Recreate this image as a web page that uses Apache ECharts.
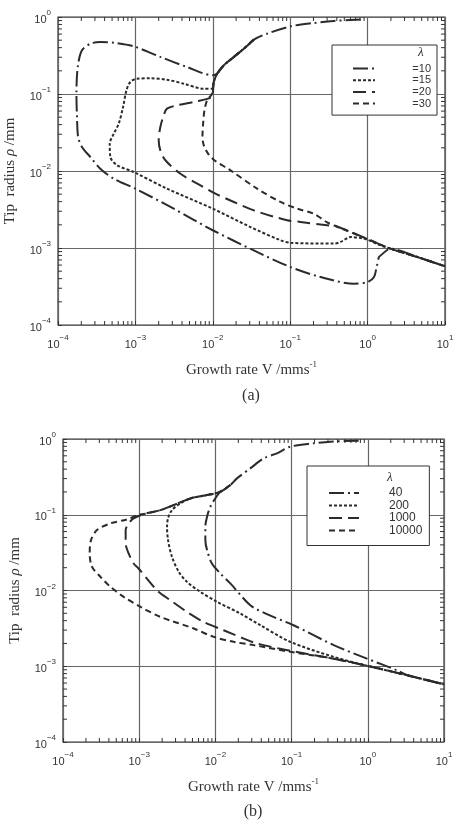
<!DOCTYPE html>
<html>
<head>
<meta charset="utf-8">
<script src="https://cdn.jsdelivr.net/npm/echarts@6/dist/echarts.min.js"></script>
<style>
  html, body { margin: 0; height: 100%; background: #fff; }
  #chart { width: 460px; height: 820px; }
</style>
</head>
<body>
<div id="chart"></div>
<script>
// points are [V (mm/s), rho (mm)]

// ---- panel (a) ----
var topA = [[0.81,0.93],[0.367,0.89],[0.202,0.836],[0.101,0.756],[0.0505,0.608]];
var upperA = [[0.0339,0.508],[0.0252,0.388],[0.0187,0.303],[0.0139,0.236],[0.0114,0.184],[0.0103,0.143]];
var joinA = [[0.4,1.9e-3],[1.09,1.26e-3]];
var tailA = [[1.98,9.8e-4],[4.39,7.64e-4],[10,5.78e-4]];

var loop10 = [[0.01,0.175],[0.00466,0.224],[0.0021,0.303],[0.00095,0.416],[5.25e-4,0.464],[3.52e-4,0.473],
              [2.62e-4,0.45],[2.04e-4,0.369],[1.8e-4,0.224],[1.73e-4,0.101],[1.76e-4,0.0502],[1.82e-4,0.0277],
              [2.04e-4,0.0205],[2.62e-4,0.0152],[3.52e-4,0.0107],[5.25e-4,0.00794],[1e-3,0.00589],[3.13e-3,3.24e-3],
              [0.01,1.7e-3],[0.0339,9.3e-4],[0.1,5.67e-4],[0.247,4.2e-4],[0.666,3.44e-4],[1.0,3.61e-4],
              [1.21,4.2e-4],[1.31,5.67e-4],[1.4,7.6e-4],[1.47,8.0e-4]];
var loop15 = [[0.0098,0.117],[7.65e-3,0.117],[4.22e-3,0.136],[2.56e-3,0.153],[1.56e-3,0.16],[1.05e-3,0.158],
              [8.6e-4,0.143],[7.65e-4,0.111],[6.93e-4,0.0678],[6.09e-4,0.0412],[5.25e-4,0.0305],[4.66e-4,0.0226],
              [4.75e-4,0.0152],[5.8e-4,0.0119],[9.5e-4,9.7e-3],[2.56e-3,5.9e-3],[0.01,3.24e-3],[0.0307,1.87e-3],
              [0.075,1.26e-3],[0.101,1.17e-3],[0.367,1.14e-3],[0.448,1.2e-3],[0.603,1.39e-3],[0.81,1.35e-3],
              [1.0,1.28e-3],[1.47,1.08e-3]];
var loop20 = [[0.01,0.1],[0.0098,0.0914],[6.27e-3,0.0803],[3.46e-3,0.0713],[2.56e-3,0.0645],[2.32e-3,0.0528],
              [2.1e-3,0.0373],[2.0e-3,0.025],[2.1e-3,0.0185],[2.44e-3,0.0138],[3.82e-3,9.2e-3],[6.93e-3,6.5e-3],
              [0.0108,5.08e-3],[0.0187,3.96e-3],[0.0339,3.08e-3],[0.0914,2.29e-3],[0.136,2.18e-3],[0.3,1.97e-3]];
var loop30 = [[0.0098,0.101],[8.45e-3,0.0828],[7.8e-3,0.0614],[7.5e-3,0.0412],[7.35e-3,0.0277],[7.65e-3,0.0215],
              [8.6e-3,0.0171],[0.0103,0.014],[0.0169,0.0102],[0.0374,5.9e-3],[0.075,3.96e-3],[0.123,3.24e-3],
              [0.202,2.79e-3],[0.3,2.15e-3]];

// ---- panel (b) ----
var topB = [[0.759,0.95],[0.322,0.922],[0.195,0.877],[0.0962,0.792],[0.0643,0.647],[0.043,0.555],
            [0.0287,0.409],[0.0192,0.302]];
var upperB = [[0.0157,0.247],[0.0116,0.201]];
var midB = [[7.77e-3,0.182],[4.69e-3,0.164]];
var lowB = [[2.83e-3,0.134],[1.89e-3,0.115],[1.15e-3,0.102]];
var tailB = [[3.3,7.6e-4],[10,5.78e-4]];

var loop40 = [[0.0103,0.173],[8.6e-3,0.128],[7.77e-3,0.0942],[7.38e-3,0.0694],[7.38e-3,0.0463],[7.77e-3,0.0341],
              [9.0e-3,0.0227],[0.0116,0.0168],[0.0157,0.0124],[0.0287,6.4e-3],[0.0475,4.87e-3],[0.106,3.48e-3],
              [0.357,1.9e-3],[0.975,1.26e-3],[2.41,8.85e-4]];
var loop200 = [[3.47e-3,0.141],[2.69e-3,0.115],[2.39e-3,0.0895],[2.32e-3,0.0694],[2.39e-3,0.0463],[2.69e-3,0.0279],
               [3.3e-3,0.0177],[4.24e-3,0.013],[6.34e-3,9.6e-3],[0.0105,7.08e-3],[0.0212,4.97e-3],[0.0389,3.48e-3],
               [0.0962,2.1e-3],[0.357,1.33e-3],[1.0,1.01e-3]];
var loop1000 = [[8.45e-4,0.0895],[7.27e-4,0.0768],[6.64e-4,0.0627],[6.64e-4,0.0418],[7.27e-4,0.0308],[8.45e-4,0.0227],
                [9.8e-4,0.0195],[1.71e-3,0.0101],[2.56e-3,7.45e-3],[4.24e-3,5.22e-3],[7.0e-3,3.85e-3],[0.0128,2.99e-3],
                [0.0235,2.32e-3],[0.0352,2.0e-3],[0.0962,1.6e-3],[0.357,1.26e-3],[1.0,1.01e-3]];
var loop10000 = [[9.9e-4,0.1],[6.92e-4,0.0868],[4.18e-4,0.0768],[2.79e-4,0.0627],[2.33e-4,0.0463],[2.24e-4,0.0308],
                 [2.4e-4,0.0206],[3.09e-4,0.0152],[4.18e-4,0.0112],[6.25e-4,8.25e-3],[1.04e-3,6.08e-3],[1.89e-3,4.49e-3],
                 [5.19e-3,3.15e-3],[9.5e-3,2.44e-3],[0.0174,2.1e-3],[0.0318,1.9e-3],[0.0962,1.55e-3],[0.357,1.26e-3],
                 [1.0,1.01e-3]];

var namesA = ['=10', '=15', '=20', '=30'];
var namesB = ['40', '200', '1000', '10000'];

var xMin = 1e-4, xMax = 10, yMin = 1e-4, yMax = 1;
var decadesX = [1e-4, 1e-3, 1e-2, 1e-1, 1];
var decadesY = [1e-4, 1e-3, 1e-2, 1e-1];
var minorSteps = [2, 3, 4, 5, 6, 7, 8, 9];

var INK = '#2b2b2b';
var SANS = 'Liberation Sans, Arial, sans-serif';
var SERIF = 'Liberation Serif, Times New Roman, serif';

var dashDot = [15, 4, 2, 4];
var fineDash = [3, 2];
var longDash = [13, 6];
var midDash = [6, 4];

var minorX = [], minorY = [];
decadesX.forEach(function (d) { minorSteps.forEach(function (m) { minorX.push([m * d, yMin]); }); });
decadesY.forEach(function (d) { minorSteps.forEach(function (m) { minorY.push([xMin, m * d]); }); });

function tickSeries(idx, dir) {
  return {
    type: 'custom', xAxisIndex: idx, yAxisIndex: idx, silent: true, z: 3,
    data: dir === 'x' ? minorX : minorY,
    renderItem: function (params, api) {
      var v = api.value(dir === 'x' ? 0 : 1);
      var sty = { stroke: '#333', lineWidth: 1 };
      if (dir === 'x') {
        var b = api.coord([v, yMin]), t = api.coord([v, yMax]);
        return { type: 'group', children: [
          { type: 'line', shape: { x1: b[0], y1: b[1], x2: b[0], y2: b[1] - 4 }, style: sty },
          { type: 'line', shape: { x1: t[0], y1: t[1], x2: t[0], y2: t[1] + 4 }, style: sty }
        ] };
      }
      var l = api.coord([xMin, v]), r = api.coord([xMax, v]);
      return { type: 'group', children: [
        { type: 'line', shape: { x1: l[0], y1: l[1], x2: l[0] + 4, y2: l[1] }, style: sty },
        { type: 'line', shape: { x1: r[0], y1: r[1], x2: r[0] - 4, y2: r[1] }, style: sty }
      ] };
    }
  };
}

function curve(name, idx, data, dash) {
  return {
    name: name, type: 'line', xAxisIndex: idx, yAxisIndex: idx, data: data,
    showSymbol: false, symbol: 'none', smooth: 0.3, z: 4,
    lineStyle: { color: INK, width: 2, type: dash },
    itemStyle: { color: INK }
  };
}

function powLabel(v) {
  var e = Math.round(Math.log10(v));
  return '{b|10}{s|' + (e < 0 ? '\u2212' + (-e) : e) + '}';
}
var labelRich = {
  b: { fontSize: 11, fontFamily: SANS, color: '#333', lineHeight: 16, verticalAlign: 'bottom' },
  s: { fontSize: 8, fontFamily: SANS, color: '#333', lineHeight: 8, verticalAlign: 'top' }
};

function xAxisCfg(idx) {
  return {
    type: 'log', logBase: 10, gridIndex: idx, min: xMin, max: xMax,
    name: '{t|Growth rate V /mms}{s|-1}', nameLocation: 'middle', nameGap: 35,
    nameTextStyle: { rich: {
      t: { fontSize: 15, fontFamily: SERIF, color: '#333', lineHeight: 18, verticalAlign: 'bottom' },
      s: { fontSize: 9, fontFamily: SERIF, color: '#333', lineHeight: 9, verticalAlign: 'top' } } },
    axisLine: { show: false },
    axisTick: { show: true, inside: true, length: 4, lineStyle: { color: '#333' } },
    minorTick: { show: false },
    splitLine: { show: true, lineStyle: { color: '#666', width: 1.2 } },
    axisLabel: { margin: 9, formatter: powLabel, rich: labelRich, showMinLabel: true, showMaxLabel: true }
  };
}
function yAxisCfg(idx) {
  return {
    type: 'log', logBase: 10, gridIndex: idx, min: yMin, max: yMax,
    name: '{t|Tip  radius }{i|\u03c1}{t| /mm}', nameLocation: 'middle', nameGap: 40,
    nameTextStyle: { rich: {
      t: { fontSize: 15, fontFamily: SERIF, color: '#333' },
      i: { fontSize: 15, fontFamily: SERIF, fontStyle: 'italic', color: '#333' } } },
    axisLine: { show: false },
    axisTick: { show: true, inside: true, length: 4, lineStyle: { color: '#333' } },
    minorTick: { show: false },
    splitLine: { show: true, lineStyle: { color: '#666', width: 1.2 } },
    axisLabel: { margin: 7, formatter: powLabel, rich: labelRich, showMinLabel: true, showMaxLabel: true }
  };
}

var chart = echarts.init(document.getElementById('chart'), null, { renderer: 'canvas' });
var option = {
  animation: false,
  backgroundColor: '#fff',
  grid: [
    { left: 58, top: 17, width: 387, height: 308, show: true, borderColor: '#333', borderWidth: 1.2, outerBoundsMode: 'none', containLabel: false },
    { left: 63, top: 439, width: 381, height: 303, show: true, borderColor: '#333', borderWidth: 1.2, outerBoundsMode: 'none', containLabel: false }
  ],
  xAxis: [xAxisCfg(0), xAxisCfg(1)],
  yAxis: [yAxisCfg(0), yAxisCfg(1)],
  legend: [
    {
      data: namesA, orient: 'vertical', left: 332, top: 45,
      itemWidth: 22, itemHeight: 11, itemGap: 0.7, padding: [18, 6, 6, 20],
      borderColor: '#333', borderWidth: 1, backgroundColor: '#fff', selectedMode: false,
      itemStyle: { opacity: 0 },
      formatter: function (n) { return '{r|' + n + '}'; },
      textStyle: { rich: { r: { width: 51, align: 'right', fontSize: 11, lineHeight: 11, fontFamily: SANS, color: '#333' } } }
    },
    {
      data: namesB, orient: 'vertical', left: 307, top: 466,
      itemWidth: 30, itemHeight: 11, itemGap: 0.5, padding: [21, 7, 9, 21],
      borderColor: '#333', borderWidth: 1, backgroundColor: '#fff', selectedMode: false,
      itemStyle: { opacity: 0 },
      formatter: function (n) { return '{l|' + n + '}'; },
      textStyle: { rich: { l: { padding: [0, 0, 0, 25], fontSize: 12, lineHeight: 11, fontFamily: SANS, color: '#333' } } }
    }
  ],
  graphic: [
    { type: 'text', z: 100, left: 418, top: 46, style: { text: '\u03bb', fontSize: 13, fontFamily: SERIF, fontStyle: 'italic', fill: '#333' } },
    { type: 'text', z: 100, left: 387, top: 471, style: { text: '\u03bb', fontSize: 13, fontFamily: SERIF, fontStyle: 'italic', fill: '#333' } },
    { type: 'text', z: 100, x: 251, y: 396, style: { text: '(a)', fontSize: 16, fontFamily: SERIF, fill: '#333', align: 'center', verticalAlign: 'middle' } },
    { type: 'text', z: 100, x: 253, y: 812, style: { text: '(b)', fontSize: 16, fontFamily: SERIF, fill: '#333', align: 'center', verticalAlign: 'middle' } }
  ],
  series: [
    curve('=10', 0, topA.concat(upperA.slice(0, 5), loop10, tailA), dashDot),
    curve('=15', 0, upperA.concat(loop15, tailA), fineDash),
    curve('=20', 0, upperA.concat(loop20, joinA, tailA), longDash),
    curve('=30', 0, upperA.concat(loop30, joinA, tailA), midDash),
    curve('40', 1, topB.concat(upperB, loop40, tailB), dashDot),
    curve('200', 1, upperB.concat(midB, loop200, tailB), fineDash),
    curve('1000', 1, upperB.concat(midB, lowB, loop1000, tailB), longDash),
    curve('10000', 1, upperB.concat(midB, lowB, loop10000, tailB), midDash),
    tickSeries(0, 'x'), tickSeries(0, 'y'), tickSeries(1, 'x'), tickSeries(1, 'y')
  ]
};
chart.setOption(option);
</script>
</body>
</html>
